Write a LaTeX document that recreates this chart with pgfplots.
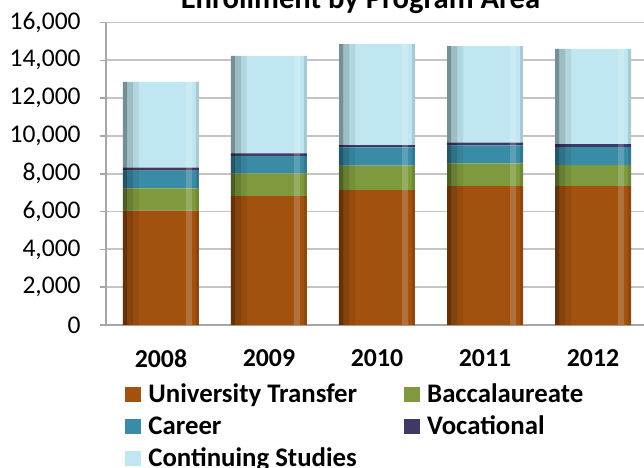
\documentclass[border=0pt]{standalone}
\usepackage{fontspec}
\setmainfont{Carlito}
\usepackage{pgfplots}
\usepackage{pgfplotstable}
\pgfplotsset{compat=1.18}

\definecolor{ut}{HTML}{A2510F}
\definecolor{bac}{HTML}{7F9A3E}
\definecolor{car}{HTML}{3A8CA6}
\definecolor{voc}{HTML}{403866}
\definecolor{cs}{HTML}{C0E7F1}
\definecolor{gridgray}{HTML}{C4C4C4}
\definecolor{axisgray}{HTML}{A6A6A6}

\pgfplotstableread{
x ut bac car voc cs tot
0 6050 1180 930 160 4540 12860
1 6820 1200 920 140 5150 14230
2 7140 1290 970 120 5340 14860
3 7350 1200 950 140 5110 14750
4 7350 1110 950 160 5030 14600
}\data

\pgfplotsset{frame/.style={
  at={(53pt,71pt)}, anchor=south west,
  scale only axis, width=269pt, height=151.25pt,
  xmin=-0.509, xmax=4.472, ymin=0, ymax=16000}}

\begin{document}
\begin{tikzpicture}
\useasboundingbox (0pt,0pt) rectangle (322pt,233.5pt);
\clip (0pt,0pt) rectangle (322pt,233.5pt);
\begin{axis}[
  frame,
  ybar stacked, bar width=38pt,
  xtick={0,1,2,3,4}, xticklabels={2008,2009,2010,2011,2012},
  ytick={0,2000,...,16000},
  axis x line*=bottom, axis y line*=left,
  axis line style={color=axisgray, line width=0.8pt},
  ymajorgrids, grid style={gridgray, line width=0.9pt},
  tick align=outside, major tick length=3pt,
  x tick style={draw=none},
  y tick style={axisgray, line width=0.8pt},
  scaled y ticks=false,
  /pgf/number format/fixed,
  /pgf/number format/1000 sep={,},
  /pgf/number format/assume math mode=true,
  ticklabel style={font=\fontsize{12.75}{15}\selectfont},
  yticklabel style={inner sep=0pt, xshift=-9.5pt},
  xticklabel style={inner sep=0pt, font=\bfseries\fontsize{12.9}{15}\selectfont, yshift=-9pt},
  title={Enrollment by Program Area},
  title style={at={(axis description cs:0.473,1)}, anchor=base, yshift=0.75pt, inner sep=0pt,
    font=\bfseries\fontsize{15.3}{17}\selectfont},
  legend columns=2,
  legend cell align=left,
  legend style={draw=none, fill=none, inner sep=0pt,
    at={(axis description cs:0.0353,-0.184)}, anchor=north west,
    font=\bfseries\fontsize{13.4}{15}\selectfont,
    nodes={inner xsep=1pt, inner ysep=2.5pt, text height=8pt, text depth=3pt},
    /tikz/every odd column/.append style={column sep=2.5pt},
    /tikz/every even column/.append style={column sep=22.5pt}},
]
\addplot[draw=none, fill=ut,
  legend image code/.code={\fill[ut] (0pt,-2.5pt) rectangle (8pt,5pt);}]
  table[x=x, y=ut]{\data};
\addlegendentry{University Transfer}
\addplot[draw=none, fill=bac,
  legend image code/.code={\fill[bac] (0pt,-2.5pt) rectangle (8pt,5pt);}]
  table[x=x, y=bac]{\data};
\addlegendentry{Baccalaureate}
\addplot[draw=none, fill=car,
  legend image code/.code={\fill[car] (0pt,-2.5pt) rectangle (8pt,5pt);}]
  table[x=x, y=car]{\data};
\addlegendentry{Career}
\addplot[draw=none, fill=voc,
  legend image code/.code={\fill[voc] (0pt,-2.5pt) rectangle (8pt,5pt);}]
  table[x=x, y=voc]{\data};
\addlegendentry{Vocational}
\addplot[draw=none, fill=cs,
  legend image code/.code={\fill[cs] (0pt,-2.5pt) rectangle (8pt,5pt);}]
  table[x=x, y=cs]{\data};
\addlegendentry{Continuing Studies}
\end{axis}
% cylinder-like edge shading of the bars
\begin{axis}[frame, hide axis, ybar]
\addplot[draw=none, fill=black, fill opacity=0.38, bar width=2pt, bar shift=-18pt]
  table[x=x, y=tot]{\data};
\addplot[draw=none, fill=black, fill opacity=0.18, bar width=3pt, bar shift=-15.5pt]
  table[x=x, y=tot]{\data};
\addplot[draw=none, fill=black, fill opacity=0.07, bar width=3pt, bar shift=-12.5pt]
  table[x=x, y=tot]{\data};
\addplot[draw=none, fill=white, fill opacity=0.18, bar width=3pt, bar shift=14pt]
  table[x=x, y=tot]{\data};
\addplot[draw=none, fill=black, fill opacity=0.12, bar width=1.5pt, bar shift=18.25pt]
  table[x=x, y=tot]{\data};
\end{axis}
\end{tikzpicture}
\end{document}
